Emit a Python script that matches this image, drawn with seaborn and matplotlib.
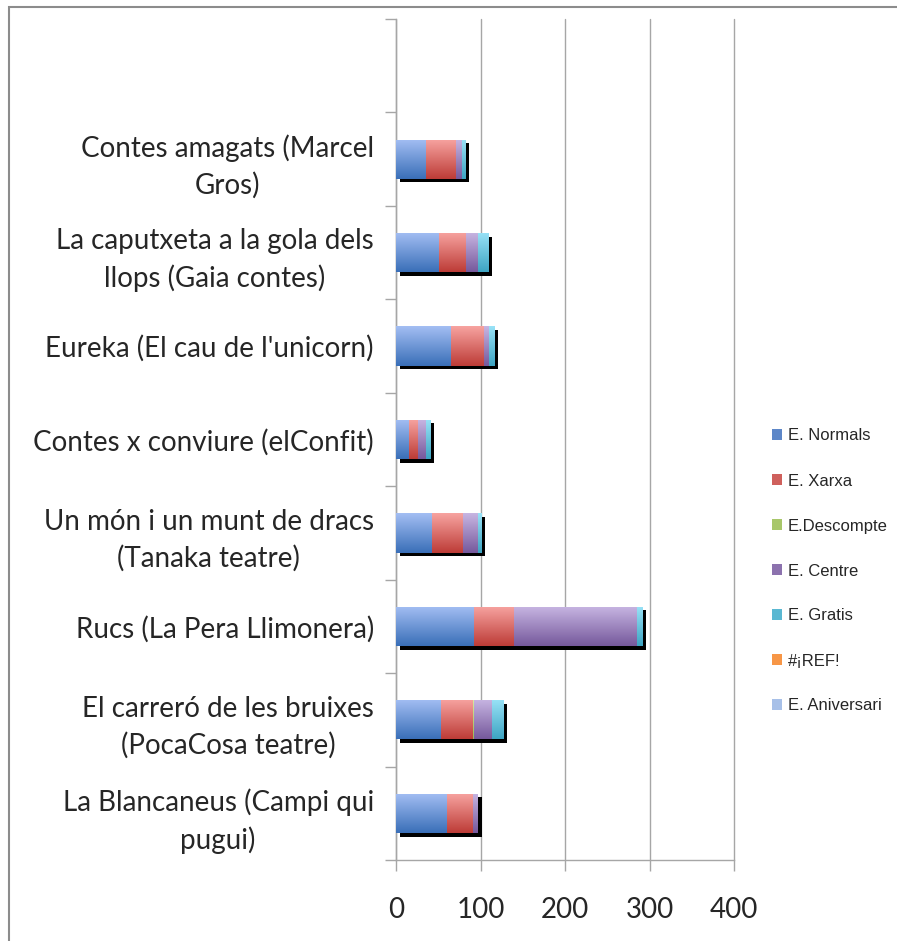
import numpy as np
import pandas as pd
import matplotlib
matplotlib.use('Agg')
import matplotlib.pyplot as plt
import matplotlib.patheffects as pe
from matplotlib.colors import LinearSegmentedColormap
from matplotlib.patches import Patch, Rectangle
import seaborn as sns

# dades (de dalt a baix, com al gràfic)
shows = [
    "Contes amagats (Marcel\nGros)",
    "La caputxeta a la gola dels\nllops (Gaia contes)",
    "Eureka (El cau de l'unicorn)",
    "Contes x conviure (elConfit)",
    "Un món i un munt de dracs\n(Tanaka teatre)",
    "Rucs (La Pera Llimonera)",
    "El carreró de les bruixes\n(PocaCosa teatre)",
    "La Blancaneus (Campi qui\npugui)",
]
series = ['E. Normals', 'E. Xarxa', 'E.Descompte', 'E. Centre', 'E. Gratis', '#¡REF!', 'E. Aniversari']
normals = [35, 50, 64, 15, 42, 92, 53, 60]
xarxa = [35, 32, 39, 11, 37, 47, 37, 30]
descompte = [0, 0, 0, 0, 0, 0, 2, 0]
centre = [7, 14, 7, 9, 17, 146, 21, 7]
gratis = [5, 13, 6, 6, 5, 7, 14, 0]
ref = [0, 0, 0, 0, 0, 0, 0, 0]
aniversari = [0, 0, 0, 0, 0, 0, 0, 0]
x_ticks = [0, 100, 200, 300, 400]

# colors (clar a dalt, fosc a baix)
grads = [
    ('#a3bef3', '#3a6fb8'),
    ('#f7a3a0', '#bd3c37'),
    ('#d7ec9f', '#9bbb59'),
    ('#c7b5e2', '#76599c'),
    ('#99e2f7', '#3ea5c3'),
    ('#fbc59f', '#f0883c'),
    ('#c4d6f5', '#95b3e0'),
]
legend_cols = ['#5d87c8', '#cf605c', '#a8c76a', '#8c72ae', '#5ab8d2', '#f79646', '#a7c0e8']

sns.set_style('white')
plt.rcParams['font.family'] = ['Lato', 'DejaVu Sans']
GRID = '#a6a6a6'

df = pd.DataFrame({'show': shows})
values = [normals, xarxa, descompte, centre, gratis, ref, aniversari]
cum = np.cumsum(np.array(values), axis=0)
for i, s in enumerate(series):
    df[s] = cum[i]

fig = plt.figure(figsize=(8.97, 9.41), dpi=100)
ax = fig.add_axes([396 / 897, 1 - 860 / 941, (734 - 396) / 897, (860 - 19) / 941])
ax.set_axisbelow(True)

grad = np.linspace(0, 1, 64).reshape(-1, 1)
for k in range(len(series) - 1, -1, -1):
    n0 = len(ax.patches)
    sns.barplot(data=df, x=series[k], y='show', order=shows, orient='h',
                color=grads[k][1], width=0.42, errorbar=None, ax=ax)
    cmap = LinearSegmentedColormap.from_list('g%d' % k, list(grads[k]))
    z = 2 + (len(series) - k) * 0.1
    for p in ax.patches[n0:]:
        p.set_linewidth(0)
        p.set_zorder(z)
        if k == len(series) - 1:
            p.set_path_effects([pe.SimplePatchShadow(offset=(2.6, -2.6), shadow_rgbFace='black', alpha=1.0),
                                pe.Normal()])
        x0, y0, w, h = p.get_x(), p.get_y(), p.get_width(), p.get_height()
        if w <= 0:
            continue
        im = ax.imshow(grad, cmap=cmap, extent=(x0, x0 + w, y0, y0 + h), origin='lower',
                       aspect='auto', interpolation='bilinear', zorder=z + 0.01)
        im.set_clip_path(p)

ax.set_xlim(0, 400)
ax.set_ylim(len(shows) - 0.5, -1.5)
ax.set_xlabel('')
ax.set_ylabel('')

ax.set_xticks(x_ticks)
ax.set_xticklabels([str(t) for t in x_ticks], fontsize=20)
ax.tick_params(axis='x', bottom=True, length=8, width=1, color=GRID, pad=19)
ax.xaxis.grid(True, color=GRID, lw=1)
for gl in ax.get_xgridlines():
    gl.set_clip_on(False)
ax.yaxis.grid(False)

ax.set_yticks(range(len(shows)))
ax.set_yticklabels(shows, fontsize=20, linespacing=1.45, multialignment='center')
ax.set_yticks(np.arange(-1.5, len(shows), 1), minor=True)
ax.tick_params(axis='y', which='major', left=True, length=0, pad=16)
ax.tick_params(axis='y', which='minor', left=True, length=8, width=1, color=GRID)

for side in ['top', 'right']:
    ax.spines[side].set_visible(False)
for side in ['left', 'bottom']:
    ax.spines[side].set_color(GRID)
    ax.spines[side].set_linewidth(1)

handles = [Patch(facecolor=c, edgecolor='none') for c in legend_cols]
fig.legend(handles, series, loc='center left', bbox_to_anchor=(772 / 897, 1 - 571 / 941),
           frameon=False, handlelength=0.6, handleheight=0.6, handletextpad=0.35,
           labelspacing=1.8, borderaxespad=0, borderpad=0,
           prop={'family': 'Liberation Sans', 'size': 12})

# marc del gràfic
fig.patches.append(Rectangle((9 / 897, -0.1), 1.2, 1 - 7 / 941 + 0.1, transform=fig.transFigure,
                             fill=False, edgecolor='#8c8c8c', lw=1.5))

fig.savefig('out.png', dpi=100)
